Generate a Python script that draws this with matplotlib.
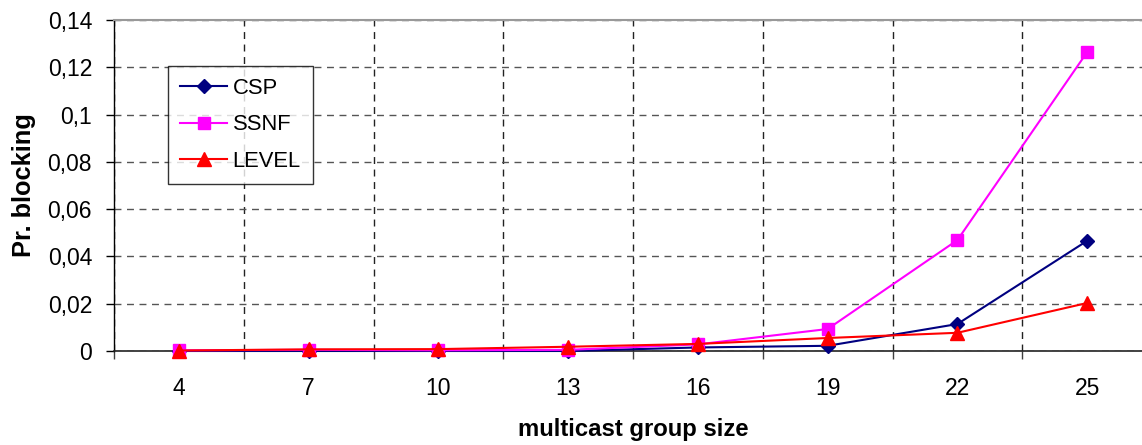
import matplotlib
matplotlib.use("Agg")
import matplotlib.pyplot as plt
from matplotlib.ticker import FixedLocator, FuncFormatter

categories = ["4", "7", "10", "13", "16", "19", "22", "25"]
csp = [0.0, 0.0, 0.0, 0.0, 0.0015, 0.0022, 0.0114, 0.0466]
ssnf = [0.0003, 0.0005, 0.0003, 0.0005, 0.0028, 0.0093, 0.0469, 0.1264]
level = [0.0002, 0.0007, 0.0008, 0.0018, 0.0030, 0.0055, 0.0077, 0.0203]
y_ticks = [0, 0.02, 0.04, 0.06, 0.08, 0.10, 0.12, 0.14]

plt.rcParams['font.family'] = ['Liberation Sans', 'DejaVu Sans']
W, H = 1142, 445
FS = 16.5
fig = plt.figure(figsize=(W / 100, H / 100), dpi=100)
ax = fig.add_axes([114 / W, 1 - 351 / H, (1152 - 114) / W, (351 - 20) / H])

x = list(range(len(categories)))
ax.plot(x, csp, color='#000080', marker='D', markersize=7.5, linewidth=1.5, label='CSP', clip_on=False, zorder=3)
ax.plot(x, ssnf, color='#FF00FF', marker='s', markersize=8, linewidth=1.5, label='SSNF', clip_on=False, zorder=4)
ax.plot(x, level, color='#FF0000', marker='^', markersize=9.5, linewidth=1.5, label='LEVEL', clip_on=False, zorder=5)

ax.set_xlim(-0.5, len(categories) - 0.5)
ax.set_ylim(0, 0.14)
ax.xaxis.set_major_locator(FixedLocator(x))
ax.set_xticklabels(categories)
ax.xaxis.set_minor_locator(FixedLocator([i + 0.5 for i in range(-1, len(categories))]))
ax.tick_params(axis='x', which='major', length=0, pad=19, labelsize=FS)
ax.tick_params(axis='x', which='minor', length=5.8, width=1, direction='out', color='#404040')
ax.yaxis.set_major_locator(FixedLocator(y_ticks))
ax.yaxis.set_major_formatter(FuncFormatter(lambda v, p: ('%g' % round(v, 2)).replace('.', ',')))
ax.tick_params(axis='y', length=5.8, width=1, direction='out', labelsize=FS, pad=10)

ax.grid(True, axis='y', which='major', linestyle=(0, (5, 4)), color='#555555', linewidth=1)
ax.grid(True, axis='x', which='minor', linestyle=(0, (5, 4)), color='#222222', linewidth=1)
ax.set_axisbelow(True)

ax.spines['right'].set_visible(False)
ax.spines['top'].set_color('#999999')
ax.spines['top'].set_linewidth(1.5)
ax.spines['left'].set_color('black')
ax.spines['left'].set_linewidth(1)
ax.spines['bottom'].set_color('#222222')
ax.spines['bottom'].set_linewidth(1.2)

ax.set_ylabel('Pr. blocking', fontsize=18.3, fontweight='bold', labelpad=8)
ax.set_xlabel('multicast group size', fontsize=17.2, fontweight='bold', labelpad=13)

leg = ax.legend(loc='upper left', bbox_to_anchor=(168 / W, 1 - 66 / H), bbox_transform=fig.transFigure,
                fontsize=15.8, frameon=True, fancybox=False, shadow=False, borderaxespad=0,
                handlelength=2.15, labelspacing=0.7, handletextpad=0.25, borderpad=0.55)
leg.get_frame().set_edgecolor('black')
leg.get_frame().set_linewidth(1)

fig.savefig('out.png', dpi=100)
